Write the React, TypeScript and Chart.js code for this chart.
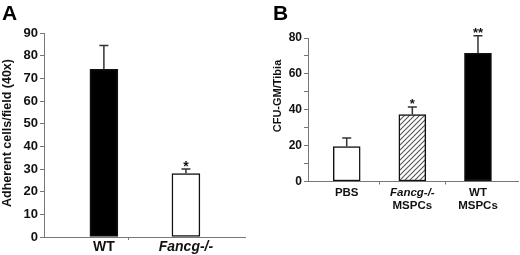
import { useEffect, useRef } from "react";
import { Chart, registerables } from "chart.js";

Chart.register(...registerables);

const FONT = "'Liberation Sans', Arial, Helvetica, sans-serif";

// ---------- Panel A data ----------
const categoriesA: string[][] = [["WT"], ["Fancg-/-"]];
const valuesA = [74, 28];
const errorsA = [10.5, 2];
const starsA = ["", "*"];
const dividersA = [0.3];
const yMaxA = 90;
const yStepA = 10;

// ---------- Panel B data ----------
const categoriesB: string[][] = [["PBS"], ["Fancg-/-", "MSPCs"], ["WT", "MSPCs"]];
const valuesB = [19.5, 37.3, 71.5];
const errorsB = [4.8, 4.3, 9.7];
const starsB = ["", "*", "**"];
const dividersB = [0.5, 1.5];
const yMaxB = 80;
const yStepB = 10;
const yLabelEveryB = 20;

type Panel = {
  letter: string;
  letterX: number;
  yTitle: string;
  yTitleSize: number;
  yTitleX: number;
  yTitleY: number;
  cats: string[][];
  values: number[];
  errors: number[];
  stars: string[];
  fills: string[];
  dividers: number[];
  xMin: number;
  xMax: number;
  yMax: number;
  yStep: number;
  yLabelEvery: number;
  tickSize: number;
  labelSize: number;
  labelY: number;
  lineGap: number;
  starSize: number;
  left: number;
  top: number;
  right: number;
  bottom: number;
  barThickness: number;
};

function makeHatch(): CanvasPattern | string {
  const c = document.createElement("canvas");
  c.width = 5;
  c.height = 5;
  const g = c.getContext("2d");
  if (!g) return "#999";
  g.fillStyle = "#fff";
  g.fillRect(0, 0, 5, 5);
  g.strokeStyle = "#555";
  g.lineWidth = 1.1;
  g.beginPath();
  g.moveTo(0, 5);
  g.lineTo(5, 0);
  g.moveTo(-1, 1);
  g.lineTo(1, -1);
  g.moveTo(4, 6);
  g.lineTo(6, 4);
  g.stroke();
  return g.createPattern(c, "repeat") || "#999";
}

const decorPlugin = {
  id: "decor",
  afterDatasetsDraw(chart: any, _args: any, opts: any) {
    const p: Panel = opts.panel;
    const ctx = chart.ctx as CanvasRenderingContext2D;
    const xs = chart.scales.x;
    const ys = chart.scales.y;
    ctx.save();
    // error bars
    ctx.strokeStyle = "#333";
    ctx.lineWidth = 1.5;
    p.values.forEach((v, i) => {
      const x = xs.getPixelForValue(i);
      const y0 = ys.getPixelForValue(v);
      const y1 = ys.getPixelForValue(v + p.errors[i]);
      ctx.beginPath();
      ctx.moveTo(x, y0);
      ctx.lineTo(x, y1);
      ctx.moveTo(x - 4.5, y1);
      ctx.lineTo(x + 4.5, y1);
      ctx.stroke();
      if (p.stars[i]) {
        ctx.fillStyle = "#111";
        ctx.font = `bold ${p.starSize}px ${FONT}`;
        ctx.textAlign = "center";
        ctx.textBaseline = "alphabetic";
        ctx.fillText(p.stars[i], x, y1 + 1.5);
      }
    });
    // x labels
    ctx.fillStyle = "#111";
    ctx.textAlign = "center";
    ctx.textBaseline = "middle";
    p.cats.forEach((lines, i) => {
      const x = xs.getPixelForValue(i);
      lines.forEach((t, j) => {
        const italic = t.startsWith("Fancg");
        ctx.font = `${italic ? "italic " : ""}bold ${p.labelSize}px ${FONT}`;
        ctx.fillText(t, x, p.labelY + j * p.lineGap);
      });
    });
    // y title
    ctx.save();
    ctx.translate(p.yTitleX, p.yTitleY);
    ctx.rotate(-Math.PI / 2);
    ctx.font = `bold ${p.yTitleSize}px ${FONT}`;
    ctx.textAlign = "center";
    ctx.textBaseline = "middle";
    ctx.fillText(p.yTitle, 0, 0);
    ctx.restore();
    // panel letter
    ctx.font = `bold 21px ${FONT}`;
    ctx.textAlign = "left";
    ctx.textBaseline = "alphabetic";
    ctx.fillStyle = "#000";
    ctx.fillText(p.letter, p.letterX, 20);
    ctx.restore();
  },
};

function PanelChart({ panel }: { panel: Panel }) {
  const ref = useRef<HTMLCanvasElement | null>(null);
  useEffect(() => {
    if (!ref.current) return;
    const hatch = makeHatch();
    const fills = panel.fills.map((f) => (f === "hatch" ? hatch : f));
    const chart = new Chart(ref.current, {
      type: "bar",
      data: {
        datasets: [
          {
            data: panel.values.map((v, i) => ({ x: i, y: v })) as any,
            backgroundColor: fills as any,
            borderColor: "#111",
            borderWidth: 1.5,
            borderSkipped: false,
            barThickness: panel.barThickness,
          },
        ],
      },
      options: {
        animation: false,
        responsive: false,
        events: [],
        layout: {
          padding: { top: panel.top, right: 260 - panel.right, left: 0, bottom: 0 },
        },
        plugins: {
          legend: { display: false },
          tooltip: { enabled: false },
          decor: { panel },
        } as any,
        scales: {
          x: {
            type: "linear",
            offset: false,
            min: panel.xMin,
            max: panel.xMax,
            afterBuildTicks: (s: any) => {
              s.ticks = panel.dividers.map((v) => ({ value: v }));
            },
            afterFit: (s: any) => {
              s.height = 255 - panel.bottom;
            },
            ticks: { callback: () => "", autoSkip: false },
            grid: {
              offset: false,
              drawOnChartArea: false,
              drawTicks: true,
              tickLength: 3,
              color: "#777",
            },
            border: { color: "#777", width: 1 },
          },
          y: {
            min: 0,
            max: panel.yMax,
            afterFit: (s: any) => {
              s.width = panel.left;
            },
            ticks: {
              stepSize: panel.yStep,
              padding: 2,
              color: "#111",
              font: { family: FONT, size: panel.tickSize, weight: "bold" },
              callback: (v: any) => (Number(v) % panel.yLabelEvery === 0 ? String(v) : ""),
            },
            grid: {
              drawOnChartArea: false,
              drawTicks: true,
              tickLength: 4,
              color: "#777",
            },
            border: { color: "#777", width: 1 },
          },
        },
      } as any,
      plugins: [decorPlugin],
    });
    return () => chart.destroy();
  }, [panel]);
  return <canvas ref={ref} width={260} height={255} style={{ display: "block" }} />;
}

const panelA: Panel = {
  letter: "A",
  letterX: 2,
  yTitle: "Adherent cells/field (40x)",
  yTitleSize: 12.5,
  yTitleX: 8,
  yTitleY: 133,
  cats: categoriesA,
  values: valuesA,
  errors: errorsA,
  stars: starsA,
  fills: ["#000", "#fff"],
  dividers: dividersA,
  xMin: -0.73,
  xMax: 1.72,
  yMax: yMaxA,
  yStep: yStepA,
  yLabelEvery: yStepA,
  tickSize: 13,
  labelSize: 14,
  labelY: 247,
  lineGap: 14,
  starSize: 14,
  left: 44,
  top: 33,
  right: 245,
  bottom: 237,
  barThickness: 28,
};

const panelB: Panel = {
  letter: "B",
  letterX: 13,
  yTitle: "CFU-GM/Tibia",
  yTitleSize: 11,
  yTitleX: 18,
  yTitleY: 96,
  cats: categoriesB,
  values: valuesB,
  errors: errorsB,
  stars: starsB,
  fills: ["#fff", "hatch", "#000"],
  dividers: dividersB,
  xMin: -0.59,
  xMax: 2.61,
  yMax: yMaxB,
  yStep: yStepB,
  yLabelEvery: yLabelEveryB,
  tickSize: 12,
  labelSize: 11.5,
  labelY: 193,
  lineGap: 13,
  starSize: 13,
  left: 48,
  top: 38,
  right: 258,
  bottom: 181.5,
  barThickness: 27,
};

export default function App() {
  return (
    <div
      style={{
        position: "absolute",
        left: 0,
        top: 0,
        width: 520,
        height: 255,
        display: "flex",
        background: "#fff",
      }}
    >
      <PanelChart panel={panelA} />
      <PanelChart panel={panelB} />
    </div>
  );
}
